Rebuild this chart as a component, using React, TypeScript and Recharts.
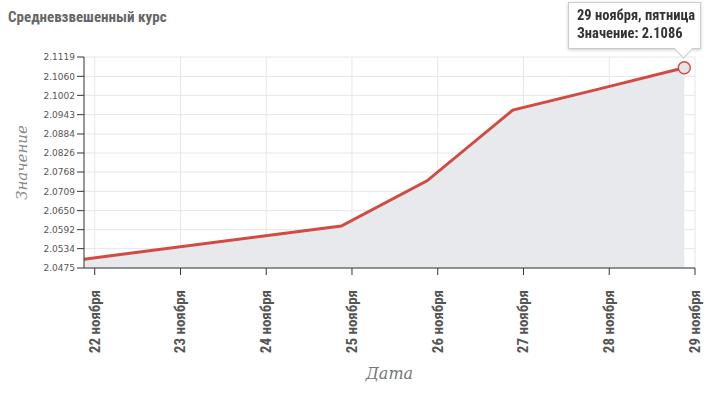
import { ComposedChart, Area, XAxis, YAxis, CartesianGrid, Tooltip } from "recharts";

// даты котировок (по Москве) и средневзвешенный курс
const dates = ["2019-11-22", "2019-11-25", "2019-11-26", "2019-11-27", "2019-11-28", "2019-11-29"];
const values = [2.0502, 2.0603, 2.0741, 2.0957, 2.1021, 2.1086];
const weekdays = ["пятница", "понедельник", "вторник", "среда", "четверг", "пятница"];

const tickDates = ["2019-11-22", "2019-11-23", "2019-11-24", "2019-11-25", "2019-11-26", "2019-11-27", "2019-11-28", "2019-11-29"];
const tickLabels = ["22 ноября", "23 ноября", "24 ноября", "25 ноября", "26 ноября", "27 ноября", "28 ноября", "29 ноября"];
const yTicks = [2.0475, 2.0534, 2.0592, 2.065, 2.0709, 2.0768, 2.0826, 2.0884, 2.0943, 2.1002, 2.106, 2.1119];

const data = dates.map((d, i) => ({
  t: Date.parse(d + "T00:00:00+03:00"),
  value: values[i],
  label: `${tickLabels[tickDates.indexOf(d)]}, ${weekdays[i]}`,
}));
const xTicks = tickDates.map((d) => Date.parse(d + "T00:00:00Z"));

const RED = "#d24b43";
const narrow = "'Liberation Sans Narrow', 'Roboto Condensed', 'DejaVu Sans Condensed', Roboto, sans-serif";

function XTick({ x, y, payload }: any) {
  const i = xTicks.indexOf(payload.value);
  return (
    <text
      x={x}
      y={y + 13}
      transform={`rotate(-90, ${x}, ${y + 13})`}
      textAnchor="end"
      dominantBaseline="central"
      fill="#555"
      fontSize={15}
      fontWeight="bold"
      fontFamily={narrow}
    >
      {tickLabels[i]}
    </text>
  );
}

function TipContent({ active, payload }: any) {
  if (!active || !payload || !payload.length) return null;
  const p = payload[0].payload;
  return (
    <div style={{ position: "relative" }}>
      <div
        style={{
          background: "#fff",
          border: "1px solid #ccc",
          boxShadow: "0 1px 3px rgba(0,0,0,0.2)",
          padding: "4px 5px 5px 8px",
          fontFamily: narrow,
          fontWeight: "bold",
          fontSize: 14.5,
          lineHeight: "18px",
          color: "#333",
          whiteSpace: "nowrap",
        }}
      >
        <div>{p.label}</div>
        <div>Значение: {p.value.toFixed(4)}</div>
      </div>
      <div
        style={{
          position: "absolute",
          right: 11,
          bottom: -7,
          width: 12,
          height: 12,
          background: "#fff",
          borderRight: "1px solid #ccc",
          borderBottom: "1px solid #ccc",
          transform: "rotate(45deg)",
        }}
      />
    </div>
  );
}

export default function App() {
  return (
    <div style={{ position: "fixed", left: 0, top: 0, width: 714, height: 393, background: "#fff" }}>
      <div
        style={{
          position: "absolute",
          left: 8,
          top: 8,
          fontFamily: narrow,
          fontWeight: "bold",
          fontSize: 15,
          color: "#666",
        }}
      >
        Средневзвешенный курс
      </div>
      <ComposedChart width={714} height={393} data={data} margin={{ top: 57, right: 19, bottom: 0, left: 0 }}>
        <CartesianGrid stroke="#e6e6e6" horizontalValues={yTicks} verticalValues={xTicks} />
        <XAxis
          dataKey="t"
          type="number"
          scale="linear"
          domain={["dataMin", xTicks[xTicks.length - 1]]}
          ticks={xTicks}
          height={125}
          stroke="#333"
          tickSize={7}
          tick={<XTick />}
          interval={0}
          allowDataOverflow
          label={{
            value: "Дата",
            position: "insideBottom",
            offset: 14,
            fill: "#777",
            fontSize: 16,
            fontStyle: "italic",
            fontFamily: "'DejaVu Serif', serif",
          }}
        />
        <YAxis
          type="number"
          domain={[yTicks[0], yTicks[yTicks.length - 1]]}
          ticks={yTicks}
          tickFormatter={(v: number) => v.toFixed(4)}
          width={84}
          stroke="#333"
          tickSize={7}
          tick={{ fill: "#555", fontSize: 9, fontFamily: "'DejaVu Sans', sans-serif" }}
          interval={0}
          label={{
            value: "Значение",
            angle: -90,
            position: "insideLeft",
            offset: 22,
            fill: "#888",
            fontSize: 15,
            fontStyle: "italic",
            fontFamily: "'DejaVu Serif', serif",
            style: { textAnchor: "middle" },
          }}
        />
        <Tooltip
          content={<TipContent />}
          defaultIndex={data.length - 1}
          active
          isAnimationActive={false}
          cursor={false}
          position={{ x: 568, y: 2 }}
          wrapperStyle={{ outline: "none" }}
        />
        <Area
          type="linear"
          dataKey="value"
          stroke={RED}
          strokeWidth={3}
          fill="#e8e9ed"
          fillOpacity={1}
          dot={false}
          activeDot={{ r: 6, fill: "#e4e5e9", stroke: RED, strokeWidth: 1.5 }}
          isAnimationActive={false}
        />
      </ComposedChart>
    </div>
  );
}
